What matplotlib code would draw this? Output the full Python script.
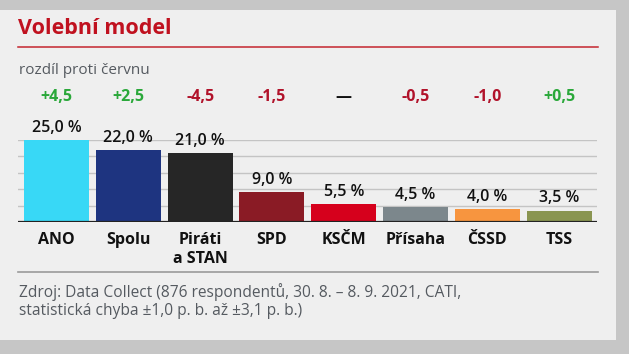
import matplotlib.pyplot as plt
from matplotlib.patches import Rectangle
from matplotlib.transforms import blended_transform_factory

# data
strany = ["ANO", "Spolu", "Piráti\na STAN", "SPD", "KSČM", "Přísaha", "ČSSD", "TSS"]
hodnoty = [25.0, 22.0, 21.0, 9.0, 5.5, 4.5, 4.0, 3.5]
rozdily = ["+4,5", "+2,5", "-4,5", "-1,5", "—", "-0,5", "-1,0", "+0,5"]
barvy = ["#38d8f6", "#1e3480", "#262626", "#8a1b25", "#d6001c",
         "#7c878c", "#f7953f", "#8a9551"]

W, H = 629, 354
ZELENA = "#2aa83a"
CERVENA = "#b1122a"
SEDA = "#555a60"

plt.rcParams['font.family'] = ['Open Sans', 'DejaVu Sans']

fig = plt.figure(figsize=(W / 100, H / 100), dpi=100)
fig.patch.set_facecolor("#c6c6c6")

def px(x, y):
    return x / W, 1 - y / H

# panel
fig.patches.append(Rectangle(px(0, 340), 616 / W, 330 / H, transform=fig.transFigure,
                             facecolor="#efefef", edgecolor="none", zorder=-5))

fig.text(*px(18, 28), "Volební model", color="#c0111f", fontsize=15.5,
         fontweight="bold", va="center", ha="left")
fig.add_artist(plt.Line2D([18 / W, 598 / W], [1 - 47 / H] * 2, color="#c4262e", lw=1.1))
fig.text(*px(19, 70), "rozdíl proti červnu", color=SEDA, fontsize=11, va="center")

fig.add_artist(plt.Line2D([18 / W, 598 / W], [1 - 272 / H] * 2, color="#9a9a9a", lw=1.2))
fig.text(*px(19, 301), "Zdroj: Data Collect (876 respondentů, 30. 8. – 8. 9. 2021, CATI,\n"
         "statistická chyba ±1,0 p. b. až ±3,1 p. b.)", color=SEDA, fontsize=11.2,
         va="center", linespacing=1.2)

# axes
ax = fig.add_axes([18 / W, 1 - 222 / H, 579 / W, 82 / H])
ax.set_zorder(2)
ax.set_facecolor("none")
ax.set_xlim(-0.536, 7.528)
ax.set_ylim(0, 25)
x = list(range(len(strany)))
ax.bar(x, hodnoty, width=0.905, color=barvy, zorder=2)
for gy in [5, 10, 15, 20, 25]:
    ax.axhline(gy, color="#c4c4c4", lw=1, zorder=1)
ax.axhline(0, color="#222222", lw=1.6, zorder=3)
for s in ax.spines.values():
    s.set_visible(False)
ax.set_yticks([])
ax.set_xticks(x)
ax.set_xticklabels(strany, fontsize=11.5, fontweight="bold", color="#111111",
                   linespacing=1.25, va="top")
ax.tick_params(axis="x", length=0, pad=7)

for i, v in enumerate(hodnoty):
    ax.annotate(f"{v:.1f} %".replace(".", ","), (i, v), xytext=(0, 3),
                textcoords="offset points", ha="center", va="bottom",
                fontsize=11.5, fontweight="semibold", color="#111111",
                annotation_clip=False)

tr = blended_transform_factory(ax.transData, fig.transFigure)
for i, r in enumerate(rozdily):
    if r.startswith("+"):
        c = ZELENA
    elif r.startswith("-"):
        c = CERVENA
    else:
        c = "#111111"
    ax.text(i, 1 - 97 / H, r, transform=tr, ha="center", va="center",
            fontsize=11.5, fontweight="bold", color=c)

fig.savefig("out.png", dpi=100, facecolor=fig.get_facecolor())
